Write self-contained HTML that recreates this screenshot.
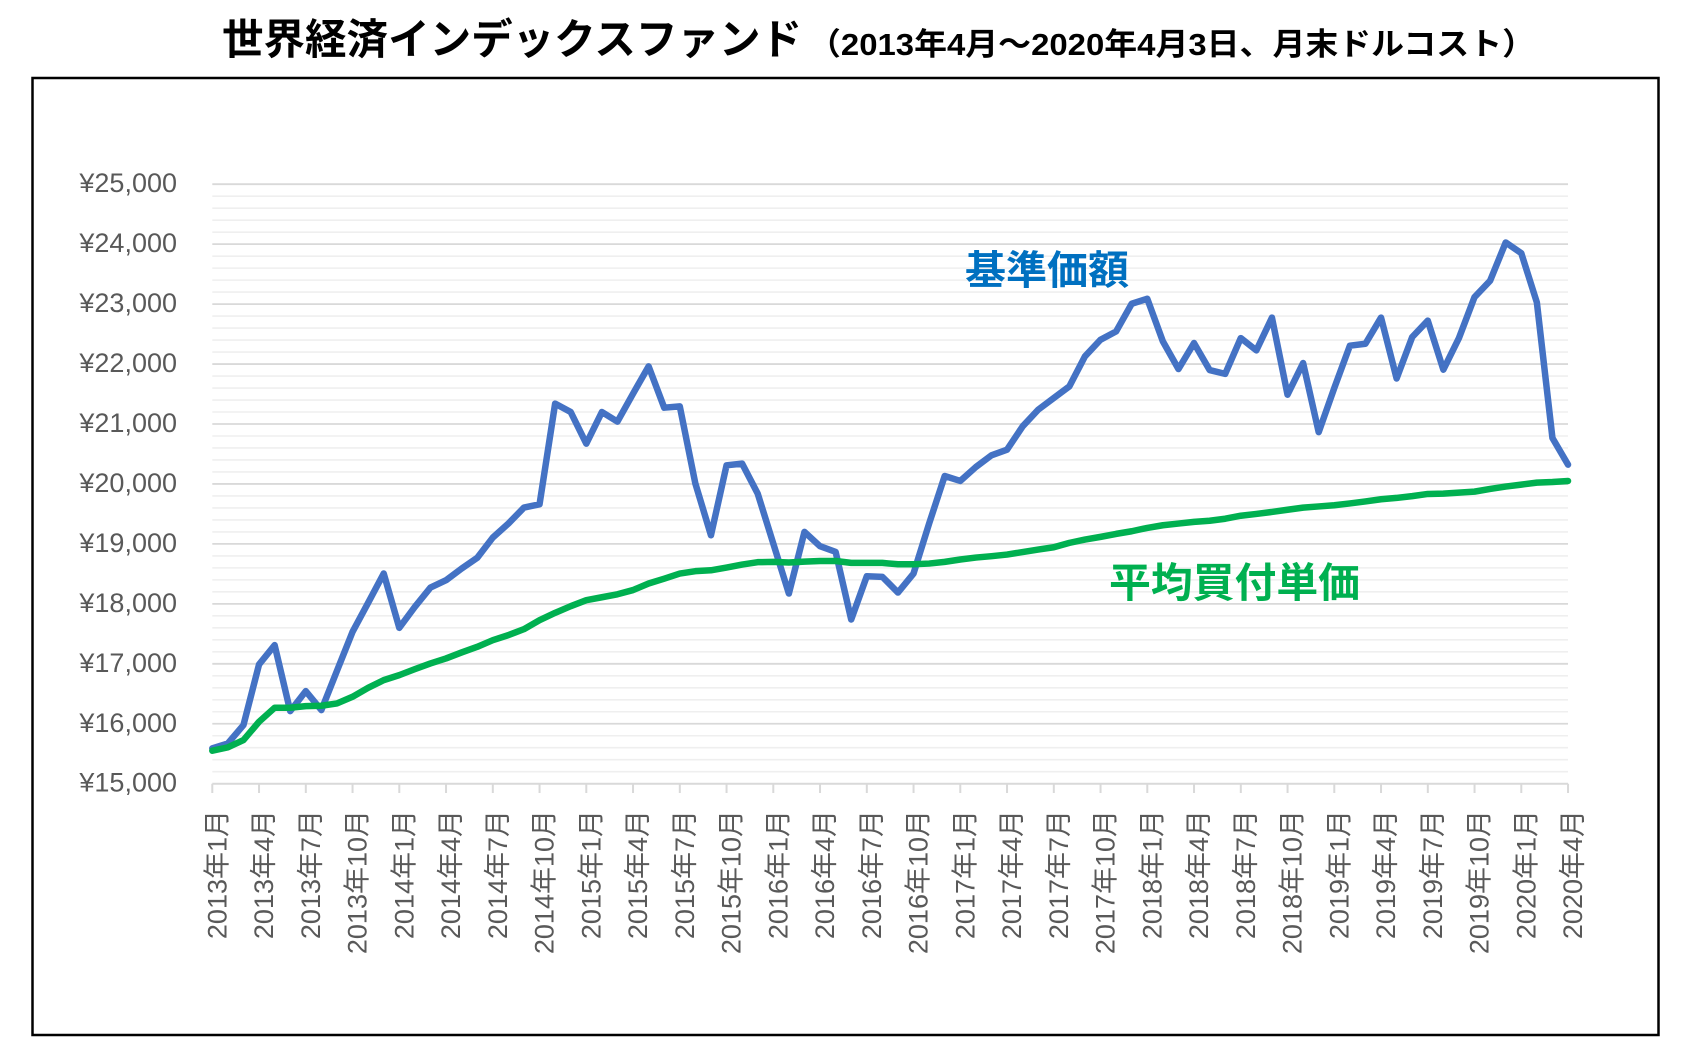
<!DOCTYPE html>
<html lang="ja">
<head>
<meta charset="utf-8">
<style>
  html, body { margin: 0; padding: 0; background: #ffffff; }
  svg { display: block; }
  .ylab { font-family: "Liberation Sans", "Noto Sans CJK JP", sans-serif; font-size: 27px; fill: #595959; }
  .xlab { font-family: "Liberation Sans", "Noto Sans CJK JP", sans-serif; font-size: 27px; fill: #595959; }
  .title { font-family: "Liberation Sans", "Noto Sans CJK JP", sans-serif; font-weight: bold; fill: #000; }
  .ann { font-family: "Liberation Sans", "Noto Sans CJK JP", sans-serif; font-weight: bold; }
</style>
</head>
<body>
<svg width="1690" height="1063" viewBox="0 0 1690 1063" xmlns="http://www.w3.org/2000/svg">
  <rect x="0" y="0" width="1690" height="1063" fill="#ffffff"/>

  <!-- Title -->
  <text class="title" x="222" y="54" font-size="42" textLength="580" lengthAdjust="spacingAndGlyphs">世界経済インデックスファンド</text>
  <text class="title" x="808" y="55" font-size="31" textLength="727" lengthAdjust="spacingAndGlyphs">（2013年4月～2020年4月3日、月末ドルコスト）</text>

  <!-- Border -->
  <rect x="32.5" y="78" width="1626" height="957" fill="none" stroke="#000000" stroke-width="2.5"/>

  <!-- Gridlines (data coordinates) -->
  <g transform="translate(212.3 783.7) scale(15.583 -0.05995) translate(0 -15000)" fill="none">
    <path vector-effect="non-scaling-stroke" stroke="#efefef" stroke-width="1.6"
      d="M0 15200H87M0 15400H87M0 15600H87M0 15800H87
         M0 16200H87M0 16400H87M0 16600H87M0 16800H87
         M0 17200H87M0 17400H87M0 17600H87M0 17800H87
         M0 18200H87M0 18400H87M0 18600H87M0 18800H87
         M0 19200H87M0 19400H87M0 19600H87M0 19800H87
         M0 20200H87M0 20400H87M0 20600H87M0 20800H87
         M0 21200H87M0 21400H87M0 21600H87M0 21800H87
         M0 22200H87M0 22400H87M0 22600H87M0 22800H87
         M0 23200H87M0 23400H87M0 23600H87M0 23800H87
         M0 24200H87M0 24400H87M0 24600H87M0 24800H87"/>
    <path vector-effect="non-scaling-stroke" stroke="#d9d9d9" stroke-width="1.8"
      d="M0 16000H87M0 17000H87M0 18000H87M0 19000H87M0 20000H87
         M0 21000H87M0 22000H87M0 23000H87M0 24000H87M0 25000H87"/>
    <path vector-effect="non-scaling-stroke" stroke="#d9d9d9" stroke-width="2" d="M0 15000H87"/>
  </g>

  <!-- X ticks -->
  <g stroke="#d9d9d9" stroke-width="2">
    <path d="M212.3 783.7V793M259.05 783.7V793M305.8 783.7V793M352.55 783.7V793M399.3 783.7V793
             M446.05 783.7V793M492.8 783.7V793M539.55 783.7V793M586.3 783.7V793M633.05 783.7V793
             M679.8 783.7V793M726.55 783.7V793M773.3 783.7V793M820.05 783.7V793M866.8 783.7V793
             M913.55 783.7V793M960.3 783.7V793M1007.05 783.7V793M1053.8 783.7V793M1100.55 783.7V793
             M1147.3 783.7V793M1194.05 783.7V793M1240.8 783.7V793M1287.55 783.7V793M1334.3 783.7V793
             M1381.05 783.7V793M1427.8 783.7V793M1474.55 783.7V793M1521.3 783.7V793M1568.05 783.7V793"/>
  </g>

  <!-- Y labels -->
  <g class="ylab" text-anchor="end">
    <text x="177" y="791.7">¥15,000</text>
    <text x="177" y="731.75">¥16,000</text>
    <text x="177" y="671.8">¥17,000</text>
    <text x="177" y="611.85">¥18,000</text>
    <text x="177" y="551.9">¥19,000</text>
    <text x="177" y="491.95">¥20,000</text>
    <text x="177" y="432">¥21,000</text>
    <text x="177" y="372.05">¥22,000</text>
    <text x="177" y="312.1">¥23,000</text>
    <text x="177" y="252.15">¥24,000</text>
    <text x="177" y="192.2">¥25,000</text>
  </g>

  <!-- X labels -->
  <g class="xlab" text-anchor="end">
    <text transform="translate(212.3 810) rotate(-90)" dy="14">2013年1月</text>
    <text transform="translate(259.05 810) rotate(-90)" dy="14">2013年4月</text>
    <text transform="translate(305.8 810) rotate(-90)" dy="14">2013年7月</text>
    <text transform="translate(352.55 810) rotate(-90)" dy="14">2013年10月</text>
    <text transform="translate(399.3 810) rotate(-90)" dy="14">2014年1月</text>
    <text transform="translate(446.05 810) rotate(-90)" dy="14">2014年4月</text>
    <text transform="translate(492.8 810) rotate(-90)" dy="14">2014年7月</text>
    <text transform="translate(539.55 810) rotate(-90)" dy="14">2014年10月</text>
    <text transform="translate(586.3 810) rotate(-90)" dy="14">2015年1月</text>
    <text transform="translate(633.05 810) rotate(-90)" dy="14">2015年4月</text>
    <text transform="translate(679.8 810) rotate(-90)" dy="14">2015年7月</text>
    <text transform="translate(726.55 810) rotate(-90)" dy="14">2015年10月</text>
    <text transform="translate(773.3 810) rotate(-90)" dy="14">2016年1月</text>
    <text transform="translate(820.05 810) rotate(-90)" dy="14">2016年4月</text>
    <text transform="translate(866.8 810) rotate(-90)" dy="14">2016年7月</text>
    <text transform="translate(913.55 810) rotate(-90)" dy="14">2016年10月</text>
    <text transform="translate(960.3 810) rotate(-90)" dy="14">2017年1月</text>
    <text transform="translate(1007.05 810) rotate(-90)" dy="14">2017年4月</text>
    <text transform="translate(1053.8 810) rotate(-90)" dy="14">2017年7月</text>
    <text transform="translate(1100.55 810) rotate(-90)" dy="14">2017年10月</text>
    <text transform="translate(1147.3 810) rotate(-90)" dy="14">2018年1月</text>
    <text transform="translate(1194.05 810) rotate(-90)" dy="14">2018年4月</text>
    <text transform="translate(1240.8 810) rotate(-90)" dy="14">2018年7月</text>
    <text transform="translate(1287.55 810) rotate(-90)" dy="14">2018年10月</text>
    <text transform="translate(1334.3 810) rotate(-90)" dy="14">2019年1月</text>
    <text transform="translate(1381.05 810) rotate(-90)" dy="14">2019年4月</text>
    <text transform="translate(1427.8 810) rotate(-90)" dy="14">2019年7月</text>
    <text transform="translate(1474.55 810) rotate(-90)" dy="14">2019年10月</text>
    <text transform="translate(1521.3 810) rotate(-90)" dy="14">2020年1月</text>
    <text transform="translate(1568.05 810) rotate(-90)" dy="14">2020年4月</text>
  </g>

  <!-- Series -->
  <g transform="translate(212.3 783.7) scale(15.583 -0.05995) translate(0 -15000)" fill="none">
    <polyline vector-effect="non-scaling-stroke" stroke="#4472C4" stroke-width="6.5" stroke-linejoin="round" stroke-linecap="round"
      points="0,15590 1,15672 2,15978 3,16989 4,17311 5,16211 6,16544 7,16228 8,16883 9,17533 10,18017 11,18506 12,17600 13,17950 14,18272 15,18394 16,18589 17,18767 18,19106 19,19339 20,19606 21,19661 22,21339 23,21200 24,20672 25,21200 26,21040 27,21506 28,21961 29,21272 30,21294 31,20006 32,19144 33,20311 34,20339 35,19839 36,19006 37,18172 38,19200 39,18961 40,18867 41,17739 42,18461 43,18450 44,18189 45,18506 46,19339 47,20133 48,20050 49,20283 50,20478 51,20572 52,20960 53,21239 54,21433 55,21628 56,22128 57,22406 58,22544 59,23006 60,23089 61,22378 62,21917 63,22350 64,21900 65,21836 66,22433 67,22228 68,22775 69,21489 70,22017 71,20864 72,21600 73,22306 74,22339 75,22775 76,21760 77,22450 78,22725 79,21906 80,22433 81,23117 82,23389 83,24028 84,23850 85,23028 86,20767 87,20322"/>
    <polyline vector-effect="non-scaling-stroke" stroke="#00B050" stroke-width="6.5" stroke-linejoin="round" stroke-linecap="round"
      points="0,15550 1,15606 2,15728 3,16033 4,16267 5,16267 6,16294 7,16300 8,16339 9,16450 10,16600 11,16728 12,16811 13,16911 14,17006 15,17089 16,17189 17,17283 18,17394 19,17478 20,17578 21,17728 22,17850 23,17961 24,18061 25,18110 26,18160 27,18230 28,18340 29,18420 30,18505 31,18545 32,18560 33,18605 34,18655 35,18695 36,18700 37,18690 38,18705 39,18715 40,18715 41,18683 42,18683 43,18683 44,18660 45,18660 46,18672 47,18700 48,18740 49,18772 50,18795 51,18822 52,18864 53,18906 54,18944 55,19017 56,19072 57,19117 58,19167 59,19211 60,19267 61,19311 62,19339 63,19367 64,19386 65,19420 66,19470 67,19500 68,19533 69,19570 70,19605 71,19625 72,19645 73,19675 74,19708 75,19745 76,19767 77,19797 78,19833 79,19839 80,19856 81,19872 82,19917 83,19956 84,19989 85,20022 86,20033 87,20050"/>
  </g>

  <!-- Annotations -->
  <text class="ann" x="965" y="284" font-size="40" fill="#0070C0" textLength="164" lengthAdjust="spacingAndGlyphs">基準価額</text>
  <text class="ann" x="1109" y="597" font-size="41" fill="#00B050" textLength="251" lengthAdjust="spacingAndGlyphs">平均買付単価</text>
</svg>
</body>
</html>
